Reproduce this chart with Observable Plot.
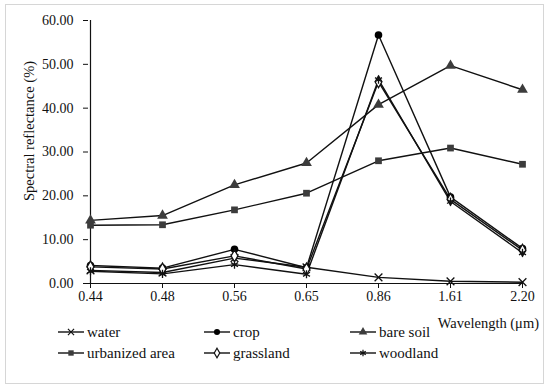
<!DOCTYPE html>
<html>
<head>
<meta charset="utf-8">
<script src="https://cdn.jsdelivr.net/npm/d3@7"></script>
<script src="https://cdn.jsdelivr.net/npm/@observablehq/plot@0.6"></script>
<style>
  html, body { margin: 0; padding: 0; background: #fff; }
  body { width: 550px; height: 387px; position: relative; overflow: hidden; font-family: "Liberation Serif", "Times New Roman", serif; }
  #border { position: absolute; left: 5px; top: 4px; width: 537px; height: 378px; border: 1px solid #d6d6d6; }
  #chart { position: absolute; left: 0; top: 0; }
  #legend { position: absolute; left: 0; top: 0; width: 550px; height: 387px; }
  .item { position: absolute; display: flex; align-items: center; font-family: "Liberation Serif", "Times New Roman", serif; font-size: 15px; color: #111; white-space: nowrap; line-height: 18px; }
  .item svg { display: block; margin-right: 3px; }
  .lbl { position: absolute; font-family: "Liberation Serif", "Times New Roman", serif; font-size: 14.5px; color: #111; white-space: nowrap; line-height: 16px; }
  #ylabel { left: 29px; top: 131px; transform: translate(-50%, -50%) rotate(-90deg); }
  #xlabel { right: 11px; top: 315px; }
</style>
</head>
<body>
<div id="border"></div>
<div id="chart"></div>
<div id="legend"></div>
<div class="lbl" id="ylabel"></div>
<div class="lbl" id="xlabel"></div>
<script>
const wavelengths = ["0.44", "0.48", "0.56", "0.65", "0.86", "1.61", "2.20"];
const yTicks = [0, 10, 20, 30, 40, 50, 60];
const xTitle = "Wavelength (μm)";
const yTitle = "Spectral reflectance (%)";

const water      = [3.0, 2.5, 5.8, 3.7, 1.4, 0.5, 0.3];
const crop       = [4.1, 3.5, 7.8, 3.6, 56.7, 19.7, 8.0];
const bareSoil   = [14.4, 15.5, 22.5, 27.5, 40.8, 49.7, 44.2];
const urbanized  = [13.3, 13.4, 16.8, 20.6, 28.0, 30.9, 27.2];
const grassland  = [3.8, 3.3, 6.3, 3.3, 46.0, 19.2, 7.6];
const woodland   = [2.8, 2.2, 4.3, 2.1, 46.5, 18.7, 7.0];

const seriesNames = ["water", "crop", "bare soil", "urbanized area", "grassland", "woodland"];
const seriesValues = [water, crop, bareSoil, urbanized, grassland, woodland];
const seriesStyle = {
  "water":          {symbol: "times",    fill: "none",    stroke: "#111", r: 3.6, d3s: d3.symbolTimes},
  "crop":           {symbol: "circle",   fill: "#000",    stroke: "none", r: 3.8, d3s: d3.symbolCircle},
  "bare soil":      {symbol: "triangle", fill: "#3c3c3c", stroke: "none", r: 4.0, d3s: d3.symbolTriangle},
  "urbanized area": {symbol: "square",   fill: "#3c3c3c", stroke: "none", r: 3.8, d3s: d3.symbolSquare},
  "grassland":      {symbol: "diamond",  fill: "#fff",    stroke: "#111", r: 3.6, d3s: d3.symbolDiamond},
  "woodland":       {symbol: "asterisk", fill: "none",    stroke: "#111", r: 3.8, d3s: d3.symbolAsterisk}
};

const rows = seriesNames.flatMap((name, k) =>
  seriesValues[k].map((v, i) => ({series: name, wl: wavelengths[i], v})));

const dotMarks = seriesNames.map(name => {
  const s = seriesStyle[name];
  return Plot.dot(rows.filter(d => d.series === name), {
    x: "wl", y: "v", symbol: () => s.symbol, r: s.r,
    fill: s.fill, stroke: s.stroke, strokeWidth: 1.3
  });
});

const chart = Plot.plot({
  width: 550,
  height: 330,
  marginLeft: 88,
  marginRight: 27,
  marginTop: 20,
  marginBottom: 47,
  style: {fontFamily: "'Liberation Serif', 'Times New Roman', serif", fontSize: "14px", color: "#111", background: "transparent"},
  x: {type: "point", domain: wavelengths, padding: 0},
  y: {domain: [0, 60]},
  symbol: {type: "identity"},
  marks: [
    Plot.axisX({tickSize: 5, tickPadding: 3, fontSize: 14, label: null}),
    Plot.axisY({ticks: yTicks, tickFormat: d => d.toFixed(2), tickSize: 5, tickPadding: 10, fontSize: 14, label: null}),
    Plot.ruleY([0], {stroke: "#111", strokeWidth: 1.2}),
    Plot.ruleX([wavelengths[0]], {stroke: "#111", strokeWidth: 1.2}),
    Plot.line(rows, {x: "wl", y: "v", z: "series", stroke: "#111", strokeWidth: 1.4}),
    ...dotMarks
  ]
});
document.getElementById("chart").appendChild(chart);
document.getElementById("xlabel").textContent = xTitle;
document.getElementById("ylabel").textContent = yTitle;

// Legend
const legendPos = [
  {name: "water", left: 58, top: 332},
  {name: "crop", left: 204, top: 332},
  {name: "bare soil", left: 350, top: 332},
  {name: "urbanized area", left: 58, top: 353},
  {name: "grassland", left: 204, top: 353},
  {name: "woodland", left: 350, top: 353}
];
const legend = d3.select("#legend");
legendPos.forEach(p => {
  const s = seriesStyle[p.name];
  const item = legend.append("div").attr("class", "item")
    .style("left", p.left + "px").style("top", (p.top - 9) + "px").style("height", "18px");
  const svg = item.append("svg").attr("width", 26).attr("height", 14);
  svg.append("line").attr("x1", 0).attr("x2", 26).attr("y1", 7).attr("y2", 7)
    .attr("stroke", "#111").attr("stroke-width", 1.4);
  const lr = s.r * 0.8;
  svg.append("path")
    .attr("transform", "translate(13,7)")
    .attr("d", d3.symbol(s.d3s, Math.PI * lr * lr)())
    .attr("fill", s.fill).attr("stroke", s.stroke).attr("stroke-width", 1.2);
  item.append("span").text(p.name);
});
</script>
</body>
</html>
